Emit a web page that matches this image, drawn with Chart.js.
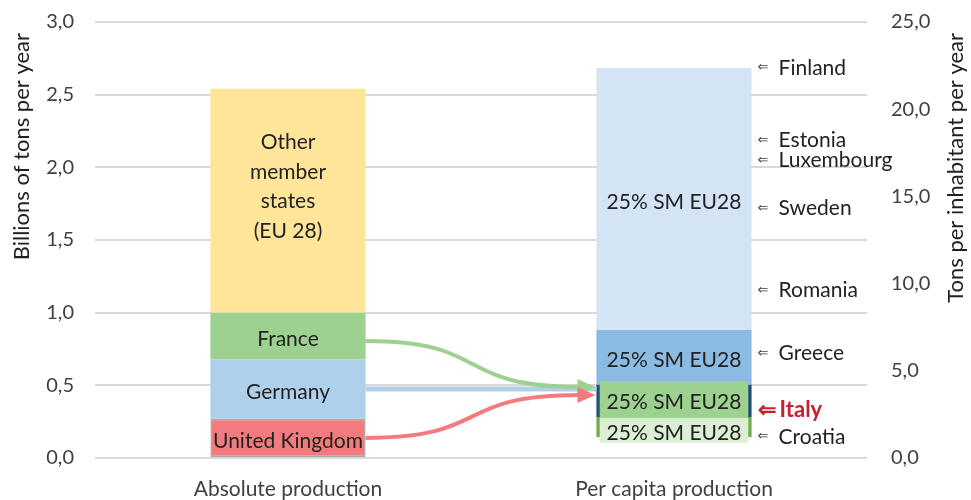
<!DOCTYPE html>
<html>
<head>
<meta charset="utf-8">
<script src="https://cdn.jsdelivr.net/npm/chart.js@4.4.0/dist/chart.umd.min.js"></script>
<style>
  html, body { margin: 0; padding: 0; background: #fff; }
  #contenedor { width: 971px; height: 500px; position: relative; }
</style>
</head>
<body>
<div id="contenedor"><canvas id="grafico"></canvas></div>
<script>
const categorias = ["Absolute production", "Per capita production"];

// barra izquierda: miles de millones de toneladas por año (de abajo hacia arriba)
const paisesAbs = ["United Kingdom", "Germany", "France", ["Other", "member", "states", "(EU 28)"]];
const valoresAbs = [0.27, 0.41, 0.32, 1.54];
const coloresAbs = ["#F37B7E", "#AFD0EA", "#9DD18F", "#FEE59A"];

// barra derecha: toneladas por habitante, capa exterior
const rangosExt = [[1.2, 2.35], [2.35, 4.2], [4.2, 7.34], [7.34, 22.36]];
const etiquetasExt = ["", "", "25% SM EU28", "25% SM EU28"];
const coloresExt = ["#70AD47", "#1F4E79", "#8BBAE3", "#D3E5F4"];

// capa interior
const rangosInt = [[0.88, 2.31], [2.31, 4.42]];
const etiquetasInt = ["25% SM EU28", "25% SM EU28"];
const coloresInt = ["#DAEFD4", "#9DD18F"];

// paises marcados a la derecha
const paises = ["Finland", "Estonia", "Luxembourg", "Sweden", "Romania", "Greece", "Italy", "Croatia"];
const valoresPais = [22.36, 18.2, 17.05, 14.3, 9.6, 6.0, 2.75, 1.2];

const tituloIzq = "Billions of tons per year";
const tituloDer = "Tons per inhabitant per year";

const FUENTE = "Lato, 'Open Sans', sans-serif";
const GRIS = "#404040";

const datasets = [];

// capa interior primero (queda encima)
rangosInt.forEach((r, i) => {
    datasets.push({
        label: etiquetasInt[i],
        data: [null, r],
        backgroundColor: coloresInt[i],
        borderWidth: 0,
        yAxisID: "y1",
        barPercentage: 0.385,
        grouped: false,
        order: 0,
        grupo: "int"
    });
});

rangosExt.forEach((r, i) => {
    datasets.push({
        label: etiquetasExt[i],
        data: [null, r],
        backgroundColor: coloresExt[i],
        borderWidth: 0,
        yAxisID: "y1",
        barPercentage: 0.402,
        grouped: false,
        order: 1,
        grupo: "ext"
    });
});

let acumulado = 0;
valoresAbs.forEach((v, i) => {
    datasets.push({
        label: paisesAbs[i],
        data: [[acumulado, acumulado + v], null],
        backgroundColor: coloresAbs[i],
        borderColor: i == 0 ? "#A6A6A6" : coloresAbs[i],
        borderWidth: i == 0 ? 1.5 : 0,
        borderSkipped: false,
        yAxisID: "y",
        barPercentage: 0.402,
        grouped: false,
        order: 2,
        grupo: "abs"
    });
    acumulado += v;
});

function formatoComa(valor) {
    return valor.toFixed(1).replace(".", ",");
}

// buscar el elemento dibujado de un dataset
function elemento(chart, idx, cat) {
    return chart.getDatasetMeta(idx).data[cat];
}

// textos dentro de las barras
const textoBarras = {
    id: "textoBarras",
    afterDatasetsDraw(chart) {
        const ctx = chart.ctx;
        ctx.save();
        ctx.textAlign = "center";
        ctx.textBaseline = "middle";
        ctx.fillStyle = "#222222";
        ctx.font = "21px " + FUENTE;
        chart.data.datasets.forEach((ds, i) => {
            if (!ds.label) return;
            const cat = ds.grupo == "abs" ? 0 : 1;
            const el = elemento(chart, i, cat);
            const centro = (el.y + el.base) / 2;
            const lineas = Array.isArray(ds.label) ? ds.label : [ds.label];
            const alto = 29.5;
            const desplaz = lineas.length > 1 ? -14 : 3;
            lineas.forEach((t, k) => {
                ctx.fillText(t, el.x, centro + desplaz + (k - (lineas.length - 1) / 2) * alto);
            });
        });
        ctx.restore();
    }
};

// flechas de Francia, Alemania y Reino Unido hacia Italia
function punta(ctx, x, y, color) {
    ctx.fillStyle = color;
    ctx.beginPath();
    ctx.moveTo(x + 16, y);
    ctx.lineTo(x - 2, y - 8);
    ctx.lineTo(x - 2, y + 8);
    ctx.closePath();
    ctx.fill();
}

const flechas = {
    id: "flechas",
    afterDatasetsDraw(chart) {
        const ctx = chart.ctx;
        const nAbs = chart.data.datasets.findIndex(d => d.grupo == "abs");
        const uk = elemento(chart, nAbs, 0);
        const de = elemento(chart, nAbs + 1, 0);
        const fr = elemento(chart, nAbs + 2, 0);
        const italia = elemento(chart, 1, 1);
        const ext = elemento(chart, 2, 1);
        const x0 = uk.x + uk.width / 2;
        const xFin = ext.x - ext.width / 2;
        const xPunta = xFin - 17;
        const xm = (x0 + xPunta) / 2;

        ctx.save();
        ctx.lineCap = "butt";

        // Alemania: linea recta
        const yDe = (de.y + de.base) / 2;
        ctx.strokeStyle = "#AFD0EA";
        ctx.lineWidth = 5;
        ctx.beginPath();
        ctx.moveTo(x0, yDe);
        ctx.lineTo(xFin, yDe);
        ctx.stroke();

        // Francia
        const yFr = (fr.y + fr.base) / 2 + 5;
        const yFrFin = italia.y + 6;
        ctx.strokeStyle = "#9DD18F";
        ctx.lineWidth = 4;
        ctx.beginPath();
        ctx.moveTo(x0, yFr);
        ctx.bezierCurveTo(xm + 20, yFr, xm - 20, yFrFin, xPunta, yFrFin);
        ctx.stroke();
        punta(ctx, xPunta, yFrFin, "#9DD18F");

        // Reino Unido
        const yUk = (uk.y + uk.base) / 2;
        const yUkFin = italia.y + 14;
        ctx.strokeStyle = "#F37B7E";
        ctx.lineWidth = 4;
        ctx.beginPath();
        ctx.moveTo(x0, yUk);
        ctx.bezierCurveTo(xm + 20, yUk, xm - 20, yUkFin, xPunta, yUkFin);
        ctx.stroke();
        punta(ctx, xPunta, yUkFin, "#F37B7E");
        ctx.restore();
    }
};

// nombres de paises y titulos de ejes
const anotaciones = {
    id: "anotaciones",
    afterDraw(chart) {
        const ctx = chart.ctx;
        const y1 = chart.scales.y1;
        const ext = elemento(chart, 2, 1);
        const xTexto = ext.x + ext.width / 2 + 6;
        ctx.save();
        ctx.textBaseline = "middle";
        ctx.textAlign = "left";
        paises.forEach((p, i) => {
            const y = y1.getPixelForValue(valoresPais[i]);
            if (p == "Italy") {
                ctx.fillStyle = "#C8202F";
                ctx.font = "bold 22px " + FUENTE;
                ctx.fillText("\u21D0", xTexto, y);
                ctx.fillText(p, xTexto + 22, y);
            } else {
                ctx.fillStyle = GRIS;
                ctx.font = "13px 'DejaVu Sans', sans-serif";
                ctx.fillText("\u21D0", xTexto, y);
                ctx.fillStyle = "#222222";
                ctx.font = "21px " + FUENTE;
                ctx.fillText(p, xTexto + 21, y);
            }
        });

        // titulos rotados
        ctx.fillStyle = "#222222";
        ctx.font = "22px " + FUENTE;
        ctx.textAlign = "right";
        ctx.translate(22, 33);
        ctx.rotate(-Math.PI / 2);
        ctx.fillText(tituloIzq, 0, 0);
        ctx.setTransform(1, 0, 0, 1, 0, 0);
        ctx.translate(956, 33);
        ctx.rotate(-Math.PI / 2);
        ctx.fillText(tituloDer, 0, 0);
        ctx.restore();
    }
};

// ancho fijo de los ejes verticales, sin relleno extra arriba/abajo
function ajustarEje(ancho) {
    return function (scale) {
        scale.width = ancho;
        scale.paddingTop = 0;
        scale.paddingBottom = 0;
    };
}

const config = {
    type: "bar",
    data: { labels: categorias, datasets },
    options: {
        responsive: true,
        maintainAspectRatio: false,
        animation: false,
        layout: { padding: { top: 22, right: 0, bottom: 0, left: 0 } },
        plugins: {
            legend: { display: false },
            tooltip: { enabled: false }
        },
        datasets: { bar: { categoryPercentage: 1 } },
        scales: {
            x: {
                grid: { display: false, drawTicks: false },
                border: { display: false },
                ticks: { color: GRIS, font: { family: FUENTE, size: 21 }, padding: 19 },
                afterFit(scale) { scale.height = 42; }
            },
            y: {
                position: "left",
                min: 0,
                max: 3,
                grid: { color: "#D9D9D9", lineWidth: 2, drawTicks: false },
                border: { display: false },
                ticks: {
                    stepSize: 0.5,
                    color: GRIS,
                    padding: 21,
                    font: { family: FUENTE, size: 20 },
                    callback: v => formatoComa(v)
                },
                afterFit: ajustarEje(95)
            },
            y1: {
                position: "right",
                min: 0,
                max: 25,
                grid: { display: false, drawTicks: false },
                border: { display: false },
                ticks: {
                    stepSize: 5,
                    color: GRIS,
                    padding: 24,
                    font: { family: FUENTE, size: 20 },
                    callback: v => formatoComa(v)
                },
                afterFit: ajustarEje(104)
            }
        }
    },
    plugins: [textoBarras, flechas, anotaciones]
};

const grafico = new Chart(document.getElementById("grafico"), config);
</script>
</body>
</html>
